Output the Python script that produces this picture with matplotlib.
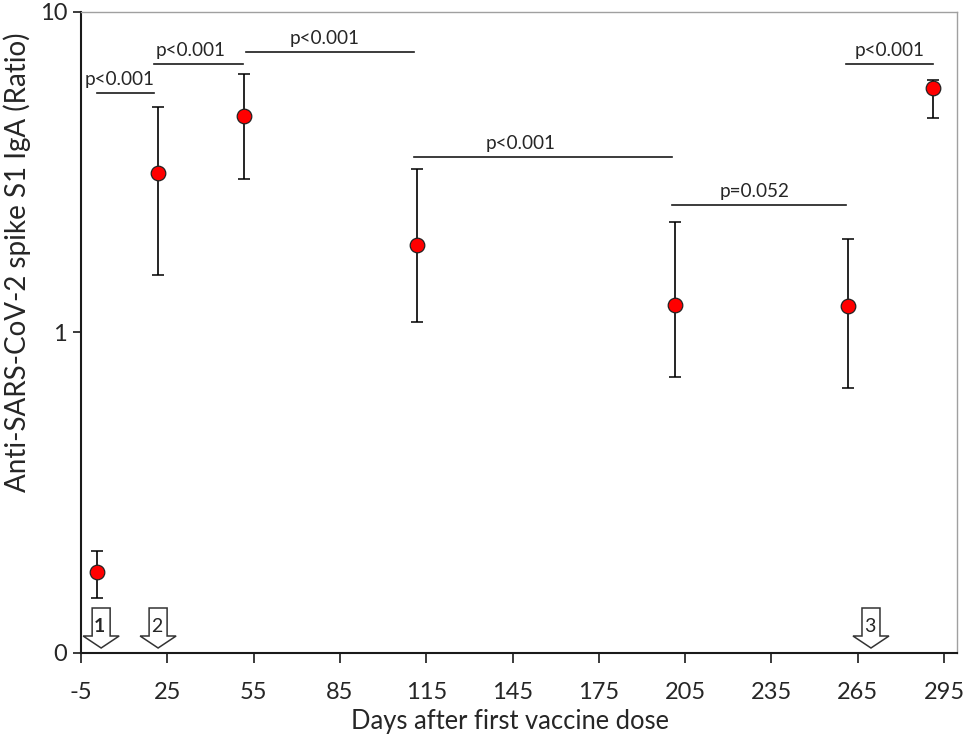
#!/usr/bin/python3
import numpy as np
import matplotlib
matplotlib.use("Agg")
import matplotlib.pyplot as plt
from matplotlib.patches import Polygon
from matplotlib.transforms import ScaledTranslation, blended_transform_factory

plt.rcParams['font.family'] = ['Lato', 'DejaVu Sans']

days = [0.6, 21.8, 51.7, 111.8, 201.5, 261.6, 291.0]
iga = [0.179, 3.14, 4.72, 1.87, 1.216, 1.207, 5.78]
iga_low = [0.148, 1.508, 3.0, 1.076, 0.725, 0.670, 4.66]
iga_high = [0.208, 5.04, 6.39, 3.23, 2.21, 1.95, 6.12]

bracket_start = [0.6, 20.4, 52.4, 110.7, 200.4, 260.9]
bracket_end = [20.4, 51.3, 110.7, 200.4, 260.9, 291.1]
bracket_y = [5.57, 6.87, 7.48, 3.52, 2.49, 6.87]
bracket_text = ["p<0.001", "p<0.001", "p<0.001", "p<0.001", "p=0.052", "p<0.001"]
bracket_text_x = [8.4, 33.1, 79.7, 147.8, 229.0, 276.0]

dose_days = [2.0, 21.8, 269.6]
dose_labels = ["1", "2", "3"]

xticks = [-5, 25, 55, 85, 115, 145, 175, 205, 235, 265, 295]
xticklabels = ["-5", "25", "55", "85", "115", "145", "175", "205", "235", "265", "295"]
yticks = [0.1, 1, 10]
yticklabels = ["0", "1", "10"]

text_col = '#262626'
line_col = '#1a1a1a'

fig = plt.figure(figsize=(9.67, 7.41), dpi=100)
ax = fig.add_axes([81/967, 1-652.7/741, 876/967, 641/741])
ax.set_yscale('log')
ax.set_xlim(-5, 299.5)
ax.set_ylim(0.1, 10)

low = np.array(iga) - np.array(iga_low)
high = np.array(iga_high) - np.array(iga)
ax.errorbar(days, iga, yerr=[low, high], fmt='none', ecolor='black', elinewidth=1.2,
            capsize=4, capthick=1.1, zorder=3)
ax.plot(days, iga, 'o', ms=10.5, mfc='#ff0000', mec='#222222', mew=0.9, ls='none', zorder=4)

for s, e, y, t, tx in zip(bracket_start, bracket_end, bracket_y, bracket_text, bracket_text_x):
    ax.plot([s, e], [y, y], color=line_col, lw=1.2, zorder=2)
    ax.annotate(t, xy=(tx, y), xytext=(0, 10), textcoords='offset points',
                ha='center', va='center', fontsize=13.6, color=text_col)

# dose arrows, shape in pixels around the tip
arrow_shape = [(-9, 40), (9, 40), (9, 12), (18, 12), (0, 0), (-18, 12), (-9, 12)]
base = blended_transform_factory(ax.transData, ax.transAxes)
for d, lab in zip(dose_days, dose_labels):
    pts = [(x/100, y/100) for x, y in arrow_shape]
    offs = fig.dpi_scale_trans + ScaledTranslation(d, 4.7/641, base)
    ax.add_patch(Polygon(pts, closed=True, fc='white', ec='#333333', lw=1.1,
                         transform=offs, clip_on=False, zorder=5))
    ax.annotate(lab, xy=(d, 0), xycoords=base, xytext=(-1, 19), textcoords='offset points',
                ha='center', va='center', fontsize=14, color=text_col, zorder=6,
                fontweight='bold' if lab == "1" else 'normal')

ax.set_xticks(xticks)
ax.set_xticklabels(xticklabels)
ax.set_yticks(yticks)
ax.set_yticklabels(yticklabels)
ax.minorticks_off()
ax.tick_params(axis='x', which='major', length=7, width=1.2, labelsize=17, pad=14, color=line_col, labelcolor=text_col)
ax.tick_params(axis='y', which='major', length=6, width=1.2, labelsize=17, pad=4, color=line_col, labelcolor=text_col)

ax.spines['left'].set_linewidth(1.5)
ax.spines['bottom'].set_linewidth(1.5)
ax.spines['left'].set_color(line_col)
ax.spines['bottom'].set_color(line_col)
ax.spines['top'].set_color('#a0a0a0')
ax.spines['right'].set_color('#a0a0a0')
ax.spines['top'].set_linewidth(1.0)
ax.spines['right'].set_linewidth(1.0)

fig.text(510/967, 1-722/741, "Days after first vaccine dose", fontsize=18.4, color=text_col,
         ha='center', va='center')
fig.text(17/967, 1-262/741, "Anti-SARS-CoV-2 spike S1 IgA (Ratio)", fontsize=20, color=text_col,
         rotation=90, ha='center', va='center')

fig.savefig("out.png", dpi=100)
